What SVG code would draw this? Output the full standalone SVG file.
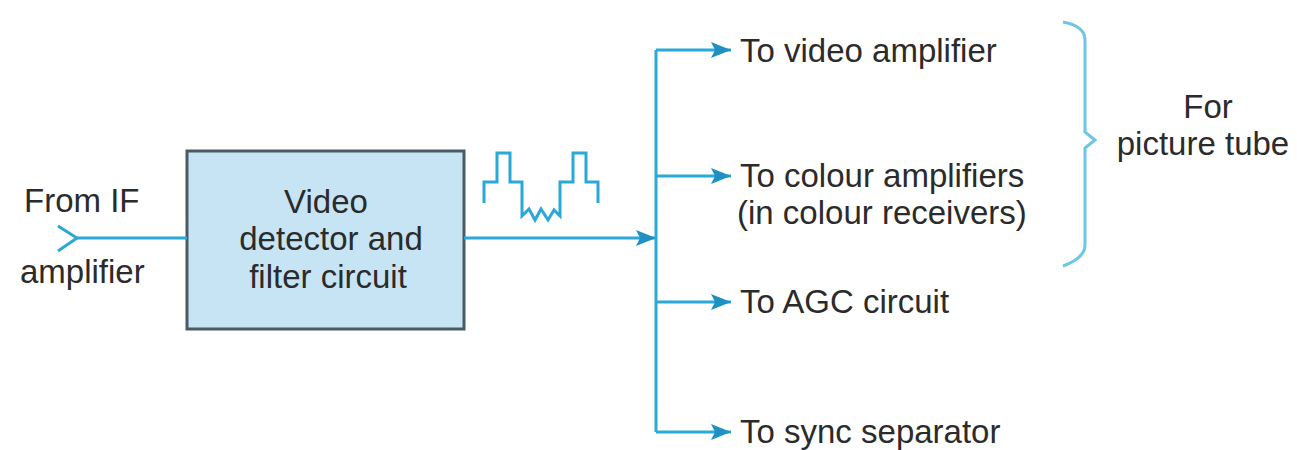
<svg xmlns="http://www.w3.org/2000/svg" width="1297" height="450" viewBox="0 0 1297 450">
<style>
.t{font-family:"Liberation Sans",Arial,sans-serif;font-size:33px;fill:#2b2b2b}
.c{text-anchor:middle}
.ln{stroke:#2aa8d8;stroke-width:3;fill:none}
</style>
<defs>
<marker id="ahb" viewBox="0 0 20 16" refX="20" refY="8" markerWidth="20" markerHeight="16" orient="auto" markerUnits="userSpaceOnUse">
<path d="M0,0 L20,8 L0,16 L4,8 Z" fill="#1e90c4"/>
</marker>
</defs>
<rect width="1297" height="450" fill="#fff"/>
<g id="input">
<text class="t" x="24" y="212">From IF</text>
<text class="t" x="20" y="283">amplifier</text>
</g>
<g id="detector">
<rect x="187" y="151" width="277" height="178" fill="#c6e4f4" stroke="#4b5b63" stroke-width="3"/>
<text class="t c" x="326" y="213">Video</text>
<text class="t c" x="331" y="250">detector and</text>
<text class="t c" x="328" y="288">filter circuit</text>
</g>
<g id="waveform">
<path class="ln" stroke-width="2.5" d="M484,203 V182 H497 V153 H510 V182 H522 V216 L529,209 L535,220 L541,209 L548,220 L554,210 L560,216 V182 H573 V153 H586 V182 H598 V203"/>
</g>
<g id="outputs">
<text class="t" x="740" y="62">To video amplifier</text>
<text class="t" x="740" y="187">To colour amplifiers</text>
<text class="t" x="737" y="224">(in colour receivers)</text>
<text class="t" x="740" y="313">To AGC circuit</text>
<text class="t" x="740" y="443">To sync separator</text>
</g>
<g id="picture-tube">
<path d="M1063,22 Q1085,26 1085,40 V132 L1095,140 L1085,148 V245 Q1085,258 1063,266" fill="none" stroke="#6cc6e6" stroke-width="3"/>
<text class="t c" x="1208" y="118">For</text>
<text class="t c" x="1203" y="155">picture tube</text>
</g>
<g id="connectors">
<path class="ln" d="M58,226 L77,238 L58,251"/>
<path class="ln" d="M77,238 H187"/>
<path class="ln" d="M464,238 H656" marker-end="url(#ahb)"/>
<path class="ln" d="M656,50 V432"/>
<path class="ln" d="M656,50 H731" marker-end="url(#ahb)"/>
<path class="ln" d="M656,176 H731" marker-end="url(#ahb)"/>
<path class="ln" d="M656,302 H731" marker-end="url(#ahb)"/>
<path class="ln" d="M656,432 H731" marker-end="url(#ahb)"/>
</g>
</svg>
